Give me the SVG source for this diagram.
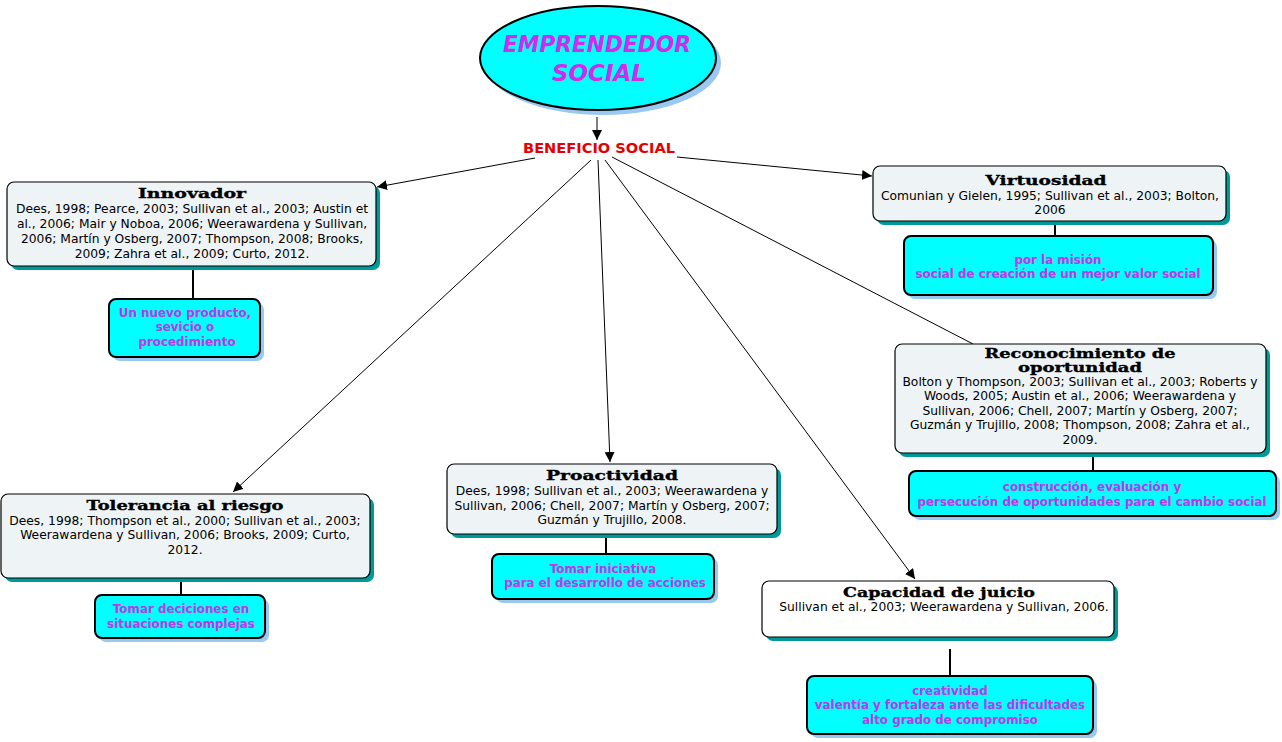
<svg xmlns="http://www.w3.org/2000/svg" width="1282" height="742" viewBox="0 0 1282 742">
<defs>
<marker id="ah" viewBox="0 0 10 10" refX="10" refY="5" markerWidth="10" markerHeight="10" markerUnits="userSpaceOnUse" orient="auto">
<path d="M0,0 L10,5 L0,10 z" fill="#000"/>
</marker>
<style>
.sh{fill:#009999}
.shc{fill:#99c8f0}
.box{fill:#eef3f5;stroke:#000;stroke-width:1.2}
.wbox{fill:#ffffff;stroke:#000;stroke-width:1.2}
.cyan{fill:#00ffff;stroke:#000;stroke-width:2}
.ttl{font-family:"DejaVu Serif","Liberation Serif",serif;font-weight:bold;font-size:13px;fill:#000;stroke:#000;stroke-width:0.35;text-anchor:middle}
.cit{font-family:"DejaVu Sans","Liberation Sans",sans-serif;font-size:12.3px;fill:#000;text-anchor:middle}
.mg{font-family:"DejaVu Sans","Liberation Sans",sans-serif;font-weight:bold;font-size:11.9px;fill:#c035f0;text-anchor:middle}
.ln{stroke:#000;stroke-width:1;fill:none}
.ln2{stroke:#000;stroke-width:2;fill:none}
</style>
</defs>
<rect width="1282" height="742" fill="#fff"/>

<g id="connectors">
<line class="ln" x1="597" y1="117" x2="597" y2="140" marker-end="url(#ah)"/>
<line class="ln" x1="535" y1="158" x2="377" y2="187" marker-end="url(#ah)"/>
<line class="ln" x1="677" y1="157" x2="872" y2="176" marker-end="url(#ah)"/>
<line class="ln" x1="591" y1="160" x2="233" y2="492" marker-end="url(#ah)"/>
<line class="ln" x1="598" y1="160" x2="610" y2="462" marker-end="url(#ah)"/>
<line class="ln" x1="605" y1="160" x2="915" y2="579" marker-end="url(#ah)"/>
<line class="ln" x1="612" y1="157" x2="973" y2="344"/>
<line class="ln2" x1="193" y1="267" x2="193" y2="300"/>
<line class="ln2" x1="1055" y1="222" x2="1055" y2="237"/>
<line class="ln2" x1="1093" y1="454" x2="1093" y2="471"/>
<line class="ln2" x1="181" y1="579" x2="181" y2="595"/>
<line class="ln2" x1="606" y1="535" x2="606" y2="554"/>
<line class="ln2" x1="950" y1="649" x2="950" y2="676"/>
</g>

<g id="root">
<ellipse cx="603" cy="63" rx="118" ry="52" class="shc"/>
<ellipse cx="598" cy="58" rx="118" ry="52" fill="#00ffff" stroke="#000" stroke-width="2"/>
<text x="597" y="52" font-family="DejaVu Sans, Liberation Sans, sans-serif" font-weight="bold" font-style="italic" font-size="23" fill="#d42af0" text-anchor="middle" textLength="188" lengthAdjust="spacingAndGlyphs">EMPRENDEDOR</text>
<text x="599" y="81" font-family="DejaVu Sans, Liberation Sans, sans-serif" font-weight="bold" font-style="italic" font-size="23" fill="#d42af0" text-anchor="middle">SOCIAL</text>
</g>

<g id="beneficio">
<text x="599" y="153" font-family="DejaVu Sans, Liberation Sans, sans-serif" font-weight="bold" font-size="13.5" fill="#e60000" text-anchor="middle" textLength="152" lengthAdjust="spacingAndGlyphs">BENEFICIO SOCIAL</text>
</g>

<g id="innovador">
<rect x="11" y="186" width="369" height="84" rx="7" class="sh"/>
<rect x="7" y="182" width="369" height="84" rx="7" class="box"/>
<text class="ttl" x="192" y="198" textLength="108" lengthAdjust="spacingAndGlyphs">Innovador</text>
<text class="cit" x="192" y="213">Dees, 1998; Pearce, 2003; Sullivan et al., 2003; Austin et</text>
<text class="cit" x="192" y="228">al., 2006; Mair y Noboa, 2006; Weerawardena y Sullivan,</text>
<text class="cit" x="192" y="243">2006; Martín y Osberg, 2007; Thompson, 2008; Brooks,</text>
<text class="cit" x="192" y="258">2009; Zahra et al., 2009; Curto, 2012.</text>
</g>
<g id="innovador-desc">
<rect x="113" y="303" width="151" height="58" rx="7" class="shc"/>
<rect x="109" y="299" width="151" height="58" rx="7" class="cyan"/>
<text class="mg" x="185" y="317">Un nuevo producto,</text>
<text class="mg" x="185" y="331">sevicio o</text>
<text class="mg" x="187" y="346">procedimiento</text>
</g>

<g id="virtuosidad">
<rect x="877" y="170" width="353" height="55" rx="7" class="sh"/>
<rect x="873" y="166" width="353" height="55" rx="7" class="box"/>
<text class="ttl" x="1046" y="185" textLength="121" lengthAdjust="spacingAndGlyphs">Virtuosidad</text>
<text class="cit" x="1050" y="200">Comunian y Gielen, 1995; Sullivan et al., 2003; Bolton,</text>
<text class="cit" x="1050" y="214">2006</text>
</g>
<g id="virtuosidad-desc">
<rect x="908" y="240" width="309" height="59" rx="7" class="shc"/>
<rect x="904" y="236" width="309" height="59" rx="7" class="cyan"/>
<text class="mg" x="1058" y="264">por la misión</text>
<text class="mg" x="1058" y="278">social de creación de un mejor valor social</text>
</g>

<g id="reconocimiento">
<rect x="899" y="348" width="371" height="109" rx="7" class="sh"/>
<rect x="895" y="344" width="371" height="109" rx="7" class="box"/>
<text class="ttl" x="1080" y="358" font-size="12" textLength="191" lengthAdjust="spacingAndGlyphs">Reconocimiento de</text>
<text class="ttl" x="1080" y="372" font-size="12" textLength="124" lengthAdjust="spacingAndGlyphs">oportunidad</text>
<text class="cit" x="1080" y="386">Bolton y Thompson, 2003; Sullivan et al., 2003; Roberts y</text>
<text class="cit" x="1080" y="400">Woods, 2005; Austin et al., 2006; Weerawardena y</text>
<text class="cit" x="1080" y="415">Sullivan, 2006; Chell, 2007; Martín y Osberg, 2007;</text>
<text class="cit" x="1080" y="429">Guzmán y Trujillo, 2008; Thompson, 2008; Zahra et al.,</text>
<text class="cit" x="1080" y="444">2009.</text>
</g>
<g id="reconocimiento-desc">
<rect x="913" y="475" width="367" height="45" rx="7" class="shc"/>
<rect x="909" y="471" width="367" height="45" rx="7" class="cyan"/>
<text class="mg" x="1092" y="491">construcción, evaluación y</text>
<text class="mg" x="1092" y="506">persecución de oportunidades para el cambio social</text>
</g>

<g id="tolerancia">
<rect x="5" y="498" width="369" height="84" rx="7" class="sh"/>
<rect x="1" y="494" width="369" height="84" rx="7" class="box"/>
<text class="ttl" x="185" y="510" textLength="197" lengthAdjust="spacingAndGlyphs">Tolerancia al riesgo</text>
<text class="cit" x="185" y="525">Dees, 1998; Thompson et al., 2000; Sullivan et al., 2003;</text>
<text class="cit" x="185" y="539">Weerawardena y Sullivan, 2006; Brooks, 2009; Curto,</text>
<text class="cit" x="185" y="554">2012.</text>
</g>
<g id="tolerancia-desc">
<rect x="99" y="599" width="170" height="43" rx="7" class="shc"/>
<rect x="95" y="595" width="170" height="43" rx="7" class="cyan"/>
<text class="mg" x="181" y="613">Tomar deciciones en</text>
<text class="mg" x="181" y="628">situaciones complejas</text>
</g>

<g id="proactividad">
<rect x="451" y="468" width="330" height="70" rx="7" class="sh"/>
<rect x="447" y="464" width="330" height="70" rx="7" class="box"/>
<text class="ttl" x="612" y="480" textLength="132" lengthAdjust="spacingAndGlyphs">Proactividad</text>
<text class="cit" x="612" y="495">Dees, 1998; Sullivan et al., 2003; Weerawardena y</text>
<text class="cit" x="612" y="510">Sullivan, 2006; Chell, 2007; Martín y Osberg, 2007;</text>
<text class="cit" x="612" y="524">Guzmán y Trujillo, 2008.</text>
</g>
<g id="proactividad-desc">
<rect x="496" y="558" width="222" height="45" rx="7" class="shc"/>
<rect x="492" y="554" width="222" height="45" rx="7" class="cyan"/>
<text class="mg" x="603" y="573">Tomar iniciativa</text>
<text class="mg" x="605" y="587">para el desarrollo de acciones</text>
</g>

<g id="capacidad">
<rect x="766" y="585" width="352" height="56" rx="7" class="sh"/>
<rect x="762" y="581" width="352" height="56" rx="7" class="wbox"/>
<text class="ttl" x="939" y="597" textLength="192" lengthAdjust="spacingAndGlyphs">Capacidad de juicio</text>
<text class="cit" x="944" y="611">Sullivan et al., 2003; Weerawardena y Sullivan, 2006.</text>
</g>
<g id="capacidad-desc">
<rect x="811" y="680" width="286" height="58" rx="7" class="shc"/>
<rect x="807" y="676" width="286" height="58" rx="7" class="cyan"/>
<text class="mg" x="950" y="695">creatividad</text>
<text class="mg" x="950" y="709">valentía y fortaleza ante las dificultades</text>
<text class="mg" x="950" y="724">alto grado de compromiso</text>
</g>
</svg>
